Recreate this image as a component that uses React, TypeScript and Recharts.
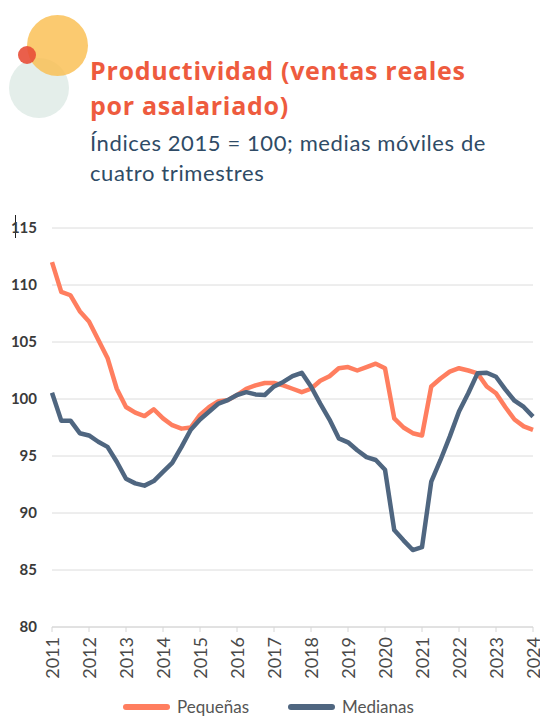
import React from 'react';
import { LineChart, Line, XAxis, YAxis, CartesianGrid, Legend } from 'recharts';

const years = [2011, 2012, 2013, 2014, 2015, 2016, 2017, 2018, 2019, 2020, 2021, 2022, 2023, 2024];
const quarterLabels = ['T1', 'T2', 'T3', 'T4'];
const periods: string[] = [];
years.forEach((y) =>
  quarterLabels.forEach((q) => {
    if (y < 2024 || q === 'T1') periods.push(`${y}-${q}`);
  })
);

const pequenas = [
  112.0, 109.4, 109.1, 107.7,
  106.8, 105.2, 103.6, 100.9,
  99.3, 98.8, 98.5, 99.1,
  98.3, 97.7, 97.4, 97.5,
  98.6, 99.3, 99.8, 99.9,
  100.35, 100.9, 101.2, 101.4,
  101.4, 101.2, 100.9, 100.6,
  100.9, 101.6, 102.0, 102.7,
  102.8, 102.5, 102.8, 103.1,
  102.7, 98.3, 97.5, 97.0,
  96.8, 101.1, 101.8, 102.4,
  102.7, 102.5, 102.25, 101.1,
  100.5, 99.3, 98.2, 97.6,
  97.3,
];

const medianas = [
  100.55, 98.1, 98.1, 97.0,
  96.8, 96.25, 95.8, 94.5,
  93.0, 92.6, 92.4, 92.8,
  93.6, 94.4, 95.8, 97.3,
  98.2, 98.9, 99.6, 99.9,
  100.35, 100.6, 100.4, 100.35,
  101.1, 101.5, 102.0, 102.3,
  101.1, 99.6, 98.2, 96.55,
  96.2, 95.5, 94.9, 94.65,
  93.8, 88.5, 87.6, 86.75,
  87.0, 92.75, 94.65, 96.7,
  98.9, 100.5, 102.25, 102.3,
  101.95, 100.85, 99.85, 99.3,
  98.45,
];

const yTicks = [80, 85, 90, 95, 100, 105, 110, 115];
const seriesNames = ['Pequeñas', 'Medianas'];
const seriesColors = ['#ff7e5f', '#4f6680'];

const data = periods.map((p, i) => ({ periodo: p, pequenas: pequenas[i], medianas: medianas[i] }));

const XTick = (props: any) => {
  const { x, y, payload } = props;
  return (
    <text
      x={x}
      y={y}
      transform={`rotate(-90, ${x}, ${y})`}
      textAnchor="end"
      dominantBaseline="central"
      fill="#4a4a4a"
      fontSize={18}
      fontFamily="Lato, sans-serif"
    >
      {String(payload.value).slice(0, 4)}
    </text>
  );
};

const LegendContent = () => (
  <div style={{ display: 'flex', fontFamily: 'Lato, sans-serif', fontSize: 17, lineHeight: '20px', color: '#555' }}>
    {seriesNames.map((n, i) => (
      <div key={n} style={{ display: 'flex', alignItems: 'center', position: 'absolute', left: i === 0 ? 123 : 288 }}>
        <div style={{ width: 47, height: 6, borderRadius: 3, background: seriesColors[i], marginRight: 7 }} />
        <span>{n}</span>
      </div>
    ))}
  </div>
);

export default function App() {
  return (
    <div style={{ position: 'absolute', left: 0, top: 0, width: 540, height: 718, overflow: 'hidden', background: '#fff' }}>
      <div style={{ position: 'absolute', left: 9, top: 58, width: 60, height: 60, borderRadius: '50%', background: '#e4eeea' }} />
      <div style={{ position: 'absolute', left: 27, top: 15, width: 61, height: 61, borderRadius: '50%', background: 'rgba(250,190,80,0.82)' }} />
      <div style={{ position: 'absolute', left: 18, top: 46, width: 18, height: 18, borderRadius: '50%', background: 'rgba(232,78,55,0.9)' }} />
      <div style={{ position: 'absolute', left: 15, top: 215, width: 1, height: 23, background: '#222' }} />
      <div
        style={{
          position: 'absolute',
          left: 90,
          top: 53,
          fontFamily: '"Open Sans", sans-serif',
          fontWeight: 700,
          fontSize: 25,
          letterSpacing: 0.7,
          lineHeight: '35px',
          color: '#ee5b3e',
          width: 450,
          whiteSpace: 'nowrap',
        }}
      >
        Productividad (ventas reales
        <br />
        por asalariado)
      </div>
      <div
        style={{
          position: 'absolute',
          left: 90,
          top: 128,
          fontFamily: 'Lato, sans-serif',
          fontWeight: 400,
          fontSize: 22,
          letterSpacing: 0.6,
          lineHeight: '30px',
          color: '#2f4b66',
          width: 450,
          whiteSpace: 'nowrap',
        }}
      >
        Índices 2015 = 100; medias móviles de
        <br />
        cuatro trimestres
      </div>
      <div style={{ position: 'absolute', left: 0, top: 0 }}>
        <LineChart width={540} height={718} data={data} margin={{ top: 228, right: 7, left: 0, bottom: 31 }}>
          <CartesianGrid horizontal vertical={false} stroke="#dcdcdc" strokeWidth={1} />
          <XAxis
            dataKey="periodo"
            interval={3}
            tick={<XTick />}
            tickSize={5}
            tickMargin={5}
            axisLine={{ stroke: '#d6d6d6' }}
            tickLine={{ stroke: '#d6d6d6' }}
            height={60}
          />
          <YAxis
            domain={[80, 115]}
            ticks={yTicks}
            width={52}
            axisLine={false}
            tickLine={false}
            tickSize={0}
            tickMargin={15}
            tick={{ fill: '#3a3a3a', fontSize: 15, fontWeight: 700, fontFamily: 'Lato, sans-serif' }}
          />
          <Legend
            layout="horizontal"
            verticalAlign="middle"
            align="center"
            content={<LegendContent />}
            wrapperStyle={{ top: 697, left: 0, width: 540, height: 20 }}
          />
          <Line
            type="linear"
            dataKey="pequenas"
            name={seriesNames[0]}
            stroke={seriesColors[0]}
            strokeWidth={4.5}
            dot={false}
            isAnimationActive={false}
            strokeLinejoin="round"
          />
          <Line
            type="linear"
            dataKey="medianas"
            name={seriesNames[1]}
            stroke={seriesColors[1]}
            strokeWidth={4.5}
            dot={false}
            isAnimationActive={false}
            strokeLinejoin="round"
          />
        </LineChart>
      </div>
    </div>
  );
}
